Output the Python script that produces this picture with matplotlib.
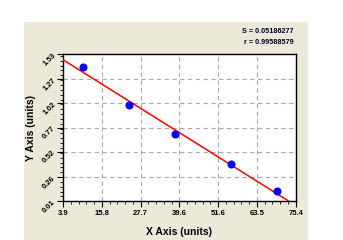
import numpy as np
import matplotlib
matplotlib.use("Agg")
import matplotlib.pyplot as plt
from matplotlib.patches import Rectangle
from matplotlib.ticker import AutoMinorLocator

# values
x_data = [10.0, 24.0, 38.4, 55.4, 69.6]
y_data = [1.40, 1.00, 0.70, 0.395, 0.113]
x_ticks = [3.9, 15.8, 27.7, 39.6, 51.6, 63.5, 75.4]
y_ticks = [0.01, 0.26, 0.52, 0.77, 1.02, 1.27, 1.53]
stats = ["S = 0.05186277", "r = 0.99588579"]

plt.rcParams["font.family"] = ["Liberation Sans", "DejaVu Sans"]

fig = plt.figure(figsize=(3.43, 2.40), dpi=100)
fig.patch.set_facecolor("white")
# beige panel behind the chart
fig.patches.append(Rectangle((24 / 343, 0), (308 - 24) / 343, (240 - 22) / 240,
                             transform=fig.transFigure, facecolor="#ECE9D8",
                             edgecolor="none", zorder=-5))

ax = fig.add_axes([63 / 343, 38.7 / 240, 233 / 343, 147.3 / 240])
ax.set_facecolor("white")
ax.set_zorder(1)

slope, intercept = np.polyfit(x_data, y_data, 1)
xs = np.array([x_ticks[0], x_ticks[-1]])
ax.plot(xs, slope * xs + intercept, color="red", lw=1.1, zorder=3)
ax.plot(x_data, y_data, "o", color="#0000FF", ms=4.8, zorder=4)

ax.set_xlim(x_ticks[0], x_ticks[-1])
ax.set_ylim(y_ticks[0], y_ticks[-1])
ax.set_xticks(x_ticks)
ax.set_yticks(y_ticks)
ax.set_xticklabels([f"{v:.1f}" for v in x_ticks], fontsize=5.5, fontweight="bold")
ax.set_yticklabels([f"{v:.2f}" for v in y_ticks], fontsize=5.5, fontweight="bold",
                   rotation=45, va="center", ha="right", rotation_mode="anchor")
ax.xaxis.set_minor_locator(AutoMinorLocator(5))
ax.yaxis.set_minor_locator(AutoMinorLocator(5))
ax.tick_params(which="major", length=4, width=0.8, pad=2)
ax.tick_params(which="minor", length=2, width=0.6)
ax.grid(True, which="major", ls=(0, (4, 3)), color="#aaaaaa", lw=0.8)
for s in ax.spines.values():
    s.set_linewidth(1.0)
    s.set_color("black")

ax.set_xlabel("X Axis (units)", fontsize=7.5, fontweight="bold")
ax.set_ylabel("Y Axis (units)", fontsize=7.5, fontweight="bold")
ax.xaxis.set_label_coords(0.5, -0.175)
ax.yaxis.set_label_coords(-0.115, 0.5)

fig.text(0.855, 0.867, stats[0], fontsize=5.2, fontweight="bold",
         color="#000033", ha="right", va="center")
fig.text(0.855, 0.825, stats[1], fontsize=5.2, fontweight="bold",
         color="#000033", ha="right", va="center")

fig.savefig("out.png", dpi=100, facecolor=fig.get_facecolor())
